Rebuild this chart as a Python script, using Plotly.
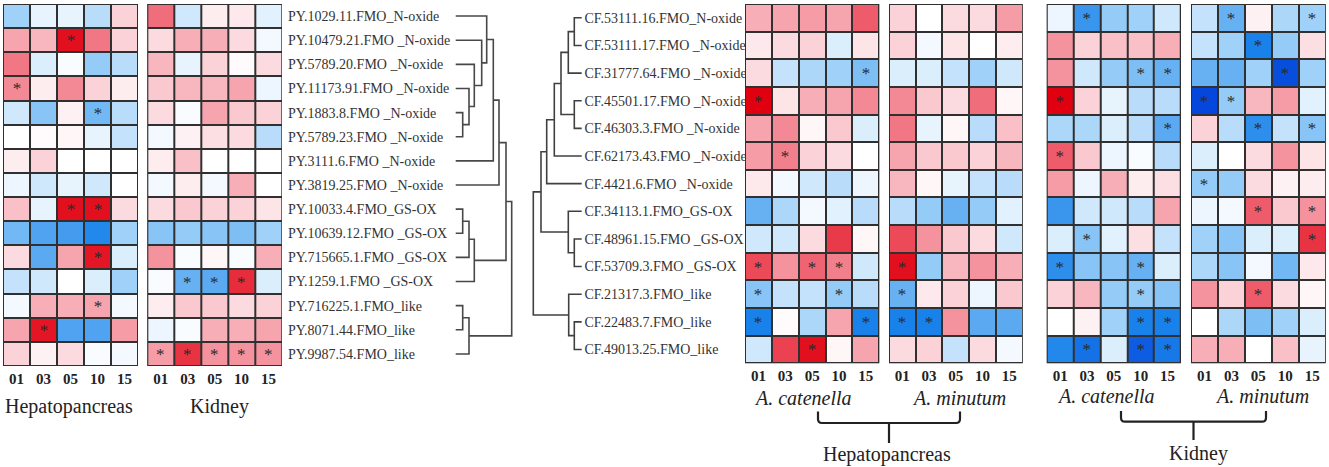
import plotly.graph_objects as go

W, H = 1329, 467
FONT = "Liberation Serif"

times = ["01", "03", "05", "10", "15"]

py_genes = ["PY.1029.11.FMO_N-oxide", "PY.10479.21.FMO _N-oxide", "PY.5789.20.FMO _N-oxide",
            "PY.11173.91.FMO _N-oxide", "PY.1883.8.FMO _N-oxide", "PY.5789.23.FMO _N-oxide",
            "PY.3111.6.FMO _N-oxide", "PY.3819.25.FMO _N-oxide", "PY.10033.4.FMO_GS-OX",
            "PY.10639.12.FMO _GS-OX", "PY.715665.1.FMO _GS-OX", "PY.1259.1.FMO _GS-OX",
            "PY.716225.1.FMO_like", "PY.8071.44.FMO_like", "PY.9987.54.FMO_like"]

cf_genes = ["CF.53111.16.FMO_N-oxide", "CF.53111.17.FMO _N-oxide", "CF.31777.64.FMO _N-oxide",
            "CF.45501.17.FMO _N-oxide", "CF.46303.3.FMO _N-oxide", "CF.62173.43.FMO _N-oxide",
            "CF.4421.6.FMO _N-oxide", "CF.34113.1.FMO_GS-OX", "CF.48961.15.FMO _GS-OX",
            "CF.53709.3.FMO _GS-OX", "CF.21317.3.FMO_like", "CF.22483.7.FMO_like",
            "CF.49013.25.FMO_like"]

py_hep = [
    [-0.8, -0.2, -0.2, -0.6, 0.5],
    [1.0, 0.8, 2.8, 1.5, 0.5],
    [1.5, -0.3, -0.05, -0.9, -0.6],
    [1.3, 0.2, 1.3, 0.5, 0.2],
    [-0.4, -1.0, 0.15, -1.2, -0.6],
    [0.0, 0.05, 0.1, -0.2, -0.5],
    [0.2, 0.5, 0.0, 0.0, 0.0],
    [-0.15, -0.4, -0.2, -0.4, 0.0],
    [0.7, -0.2, 2.8, 2.8, 0.4],
    [-1.2, -1.5, -1.6, -1.9, -0.8],
    [0.4, -1.4, 1.0, 2.7, -0.3],
    [-0.5, -0.4, 0.0, -0.3, -0.8],
    [-0.1, 0.9, 0.9, 1.0, -0.1],
    [1.0, 2.7, -1.5, -1.5, 1.1],
    [0.5, 0.15, 0.4, -0.05, -0.1],
]
py_hep_sig = ["00000", "00100", "00000", "10000", "00010", "00000", "00000", "00000",
              "00110", "00000", "00010", "00000", "00010", "01000", "00000"]

py_kid = [
    [1.6, -0.4, 0.2, 0.25, -0.25],
    [0.4, 0.9, 0.9, 0.4, -0.1],
    [0.8, -0.2, 0.5, 0.05, 0.4],
    [0.6, 0.8, 0.8, 1.0, -0.15],
    [0.4, -0.05, 1.0, 0.6, 0.5],
    [-0.1, 0.15, 0.35, 0.4, -0.6],
    [0.2, 0.7, 0.0, 0.0, 0.0],
    [-0.1, 0.2, -0.1, 0.9, 0.0],
    [0.4, 0.6, 0.5, 0.5, 0.3],
    [-1.0, -0.9, -1.0, -1.1, -0.8],
    [1.2, -0.05, 0.1, -0.05, 0.9],
    [-0.05, -1.3, -1.4, 2.4, -0.3],
    [0.2, 0.6, 0.6, 0.4, 0.5],
    [-0.15, -0.05, 0.9, 0.9, 1.0],
    [1.1, 2.3, 1.2, 1.2, 1.2],
]
py_kid_sig = ["00000"] * 11 + ["01110", "00000", "00000", "11111"]

cf_hep_cat = [
    [0.9, 1.0, 1.1, 1.0, 1.8],
    [0.25, 0.4, 0.5, -0.3, 0.3],
    [0.4, -0.5, -0.7, -0.8, -1.1],
    [3.0, 0.3, 0.9, 1.0, 1.3],
    [1.0, 1.3, 0.1, 0.6, -0.3],
    [1.1, 1.4, 0.5, 0.4, 0.0],
    [0.25, -0.1, -0.4, -0.6, -0.15],
    [-1.3, -0.7, -0.1, -0.25, -0.6],
    [-0.4, -0.4, 0.4, 2.2, 0.1],
    [2.0, 1.2, 1.7, 1.4, -0.4],
    [-1.0, -0.5, -0.5, -0.9, -0.6],
    [-2.0, 0.05, -0.7, 1.0, -2.0],
    [-0.4, 2.1, 2.8, 0.1, 1.0],
]
cf_hep_cat_sig = ["00000", "00000", "00001", "10000", "00000", "01000", "00000", "00000",
                  "00000", "10110", "10010", "10001", "00100"]

cf_hep_min = [
    [0.5, 0.0, 0.4, 0.4, 1.1],
    [0.5, -0.1, 0.3, 0.0, 0.2],
    [-0.3, -0.3, -0.5, -0.8, -0.4],
    [1.3, 0.6, 0.4, 1.6, 0.1],
    [1.5, -0.2, 0.1, -0.6, 0.7],
    [1.0, 0.6, 0.6, 0.5, 0.8],
    [0.8, 0.1, -0.2, -0.5, -0.6],
    [-0.6, -0.9, -1.3, -0.9, -0.25],
    [2.0, 1.2, 0.6, 0.4, -0.4],
    [2.8, -0.9, 0.8, 1.2, 0.9],
    [-1.3, 0.25, 0.5, -0.15, 0.6],
    [-2.0, -2.0, 1.2, -1.4, -1.4],
    [0.4, 0.5, -0.5, 0.4, -0.1],
]
cf_hep_min_sig = ["00000"] * 9 + ["10000", "10000", "11000", "00000"]

cf_kid_cat = [
    [-0.15, -1.7, -0.9, -0.8, -0.4],
    [1.2, 0.5, 0.7, 0.7, 0.9],
    [1.2, -0.4, -0.9, -1.1, -1.3],
    [3.0, 0.5, -0.2, -0.6, -0.6],
    [-0.7, -0.7, -0.3, -0.6, -1.4],
    [1.8, 0.6, -0.15, -0.05, -0.6],
    [1.1, -0.15, 0.9, 0.2, 0.35],
    [-1.7, -0.4, -0.4, -0.6, 1.0],
    [-0.3, -1.0, -0.25, 0.35, -0.5],
    [-1.8, -1.0, -1.0, -1.3, -0.3],
    [0.5, 0.8, -0.9, -0.9, -1.0],
    [0.0, 0.15, -0.8, -2.0, -2.0],
    [-1.9, -2.2, -0.3, -2.5, -2.1],
]
cf_kid_cat_sig = ["01000", "00000", "00011", "10000", "00001", "10000", "00000", "00000",
                  "01000", "10010", "00010", "00011", "01011"]

cf_kid_min = [
    [-0.5, -1.3, 0.15, -0.7, -0.8],
    [-0.5, -0.8, -2.0, -0.9, 0.35],
    [-1.3, -1.3, -0.8, -2.7, -0.8],
    [-2.8, -0.9, 0.8, 1.1, -0.25],
    [0.5, -0.6, -1.8, -0.5, -1.0],
    [-0.3, 0.0, 0.4, 1.2, 0.3],
    [-0.9, -0.9, 0.4, 0.15, 0.2],
    [-0.15, -0.1, 1.8, 0.6, 1.2],
    [-0.8, -1.0, -0.3, -0.3, 2.3],
    [-0.7, -1.0, -0.1, -1.2, 0.25],
    [1.2, 0.5, 1.8, 0.4, 0.1],
    [0.0, -0.7, -1.1, -0.8, -0.3],
    [0.9, 0.9, 0.0, 0.7, -0.2],
]
cf_kid_min_sig = ["01001", "00100", "00010", "11000", "00101", "00000", "10000", "00101",
                  "00001", "00000", "00100", "00000", "00000"]

# dendrogram merges: (child_a, child_b, distance); leaves are row indices
py_links = [(4, 5, 0.70), (3, 15, 1.33), (2, 16, 1.86), (1, 17, 2.60), (0, 18, 3.10),
            (6, 19, 3.76), (7, 20, 4.33), (8, 9, 0.70), (22, 10, 1.33), (23, 11, 1.86),
            (21, 24, 5.03), (12, 13, 0.70), (26, 14, 1.33), (25, 27, 5.60)]
cf_links = [(0, 1, 0.74), (13, 2, 1.34), (3, 4, 0.74), (14, 15, 2.07), (16, 5, 2.74),
            (17, 6, 3.50), (8, 9, 0.74), (7, 19, 1.34), (18, 20, 4.07), (11, 12, 0.74),
            (10, 22, 1.30), (21, 23, 4.84)]

colorscale = [[0.0, "#0038d8"], [0.17, "#1a82ea"], [0.33, "#86c4f6"], [0.5, "#ffffff"],
              [0.67, "#f6a3ad"], [0.83, "#ec4a5a"], [1.0, "#e00010"]]


def fx(px):
    return px / W


def fy(py):
    return 1 - py / H


def dendro(links, n):
    ypos = {i: float(i) for i in range(n)}
    hpos = {i: 0.0 for i in range(n)}
    xs, ys = [], []
    for k, (a, b, h) in enumerate(links):
        xs += [hpos[a], h, h, hpos[b], None]
        ys += [ypos[a], ypos[a], ypos[b], ypos[b], None]
        ypos[n + k] = (ypos[a] + ypos[b]) / 2
        hpos[n + k] = h
    return xs, ys


fig = go.Figure()
shapes = []

heatmaps = [
    # values, sig, x-px range, y-px range, n rows
    (py_hep, py_hep_sig, (3, 138), (4, 366)),
    (py_kid, py_kid_sig, (147.3, 282), (4, 366)),
    (cf_hep_cat, cf_hep_cat_sig, (745, 879.3), (4, 363.3)),
    (cf_hep_min, cf_hep_min_sig, (889, 1022.7), (4, 363.3)),
    (cf_kid_cat, cf_kid_cat_sig, (1046.7, 1181), (4, 363.3)),
    (cf_kid_min, cf_kid_min_sig, (1191, 1325.7), (4, 363.3)),
]
axis_ids = [1, 2, 5, 6, 7, 8]

for (vals, sig, (x0, x1), (y0, y1)), ai in zip(heatmaps, axis_ids):
    n = len(vals)
    txt = [["*" if s == "1" else "" for s in row] for row in sig]
    xa = "x" if ai == 1 else f"x{ai}"
    ya = "y" if ai == 1 else f"y{ai}"
    fig.add_trace(go.Heatmap(
        z=vals, x=list(range(len(times))), y=list(range(n)), text=txt, texttemplate="%{text}",
        textfont=dict(family=FONT, size=17, color="#2a2a2a"),
        colorscale=colorscale, zmin=-3, zmax=3, showscale=False, xgap=2, ygap=2,
        hoverinfo="skip", xaxis=xa, yaxis=ya))
    key = "" if ai == 1 else str(ai)
    fig.layout["xaxis" + key] = dict(
        domain=[fx(x0), fx(x1)], range=[-0.5, len(times) - 0.5], anchor=ya,
        tickvals=list(range(len(times))), ticktext=times, showgrid=False, zeroline=False,
        tickfont=dict(family=FONT, size=15, color="#222", weight="bold"), ticks="",
        ticklabelstandoff=2, fixedrange=True)
    fig.layout["yaxis" + key] = dict(
        domain=[fy(y1), fy(y0)], range=[n - 0.5, -0.5], anchor=xa, showgrid=False,
        zeroline=False, showticklabels=False, ticks="", fixedrange=True)
    shapes.append(dict(type="rect", xref=xa, yref=ya, x0=-0.5, x1=len(times) - 0.5,
                       y0=-0.5, y1=n - 0.5, fillcolor="#303030",
                       line=dict(color="#303030", width=2), layer="below"))

# gene labels for PY on kidney axis (right side)
fig.layout.yaxis2.update(side="right", showticklabels=True, tickvals=list(range(len(py_genes))),
                         ticktext=py_genes, ticklabelstandoff=5,
                         tickfont=dict(family=FONT, size=14, color="#333"))

# PY dendrogram (axis 3)
xs, ys = dendro(py_links, len(py_genes))
fig.add_trace(go.Scatter(x=xs, y=ys, mode="lines", line=dict(color="#484848", width=1.6),
                         hoverinfo="skip", xaxis="x3", yaxis="y3", showlegend=False))
leaf_px, unit = 455.7, 10.0
fig.layout.xaxis3 = dict(domain=[fx(452), fx(516)],
                         range=[(452 - leaf_px) / unit, (516 - leaf_px) / unit],
                         visible=False, anchor="y3", fixedrange=True)
fig.layout.yaxis3 = dict(domain=[fy(366), fy(4)], range=[len(py_genes) - 0.5, -0.5],
                         visible=False, anchor="x3", fixedrange=True)

# CF dendrogram (axis 4), leaves on the right, labels to its right
xs, ys = dendro(cf_links, len(cf_genes))
fig.add_trace(go.Scatter(x=xs, y=ys, mode="lines", line=dict(color="#404040", width=1.6),
                         hoverinfo="skip", xaxis="x4", yaxis="y4", showlegend=False))
cf_leaf_px = 581.7
fig.layout.xaxis4 = dict(domain=[fx(529), fx(582.5)],
                         range=[(cf_leaf_px - 529) / unit, (cf_leaf_px - 582.5) / unit],
                         visible=False, anchor="y4", fixedrange=True)
fig.layout.yaxis4 = dict(domain=[fy(363.3), fy(4)], range=[len(cf_genes) - 0.5, -0.5],
                         anchor="x4", side="right", showgrid=False, zeroline=False, showline=False,
                         ticks="", tickvals=list(range(len(cf_genes))), ticktext=cf_genes,
                         ticklabelstandoff=1, tickfont=dict(family=FONT, size=14, color="#333"),
                         fixedrange=True)

# braces
def brace(xl, xr, ytop, yh, ybot, r=4):
    xc = (xl + xr) / 2
    pts = (f"M {fx(xl)},{fy(ytop)} L {fx(xl)},{fy(yh - r)} Q {fx(xl)},{fy(yh)} {fx(xl + r)},{fy(yh)} "
           f"L {fx(xr - r)},{fy(yh)} Q {fx(xr)},{fy(yh)} {fx(xr)},{fy(yh - r)} L {fx(xr)},{fy(ytop)} "
           f"M {fx(xc)},{fy(yh)} L {fx(xc)},{fy(ybot)}")
    return dict(type="path", xref="paper", yref="paper", path=pts,
                line=dict(color="#222", width=2.2))

shapes.append(brace(818, 960, 411.5, 423, 443))
shapes.append(brace(1121, 1266, 411, 421.7, 440))

annos = []
def label(text, cx, cy, size=20, italic=False):
    annos.append(dict(text=text, x=fx(cx), y=fy(cy), xref="paper", yref="paper",
                      showarrow=False, xanchor="center", yanchor="middle",
                      font=dict(family=FONT, size=size, color="#222",
                                style="italic" if italic else "normal")))

label("Hepatopancreas", 68.5, 406)
label("Kidney", 219.5, 406)
label("A. catenella", 803, 398, italic=True)
label("A. minutum", 959, 398, italic=True)
label("A. catenella", 1106, 396, italic=True)
label("A. minutum", 1262, 396, italic=True)
label("Hepatopancreas", 887, 454)
label("Kidney", 1198, 453)

fig.update_layout(width=W, height=H, margin=dict(l=0, r=0, t=0, b=0),
                  paper_bgcolor="white", plot_bgcolor="white", showlegend=False,
                  shapes=shapes, annotations=annos, font=dict(family=FONT))

fig.write_html("out.html", config={"displayModeBar": False},
               post_script="document.body.style.margin='0';")
